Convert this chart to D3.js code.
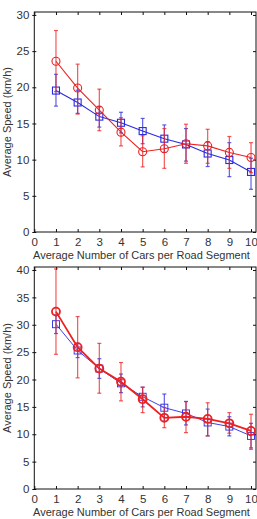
<!DOCTYPE html>
<html><head><meta charset="utf-8">
<script src="https://cdn.jsdelivr.net/npm/d3@7"></script>
<style>body{margin:0;background:#fff}svg{display:block}text{font-family:"Liberation Sans",Arial,sans-serif;fill:#333}</style>
</head><body><svg id="c" width="257" height="519"></svg>
<script>
const xs = [1,2,3,4,5,6,7,8,9,10];
const xTicks = [0,1,2,3,4,5,6,7,8,9,10];
// Top panel
const topRed = [23.6,19.9,16.85,13.8,11.1,11.5,12.2,11.9,11.0,10.3];
const topRedLo = [19.4,16.3,14.0,11.9,9.0,8.8,9.5,9.5,8.8,8.2];
const topRedHi = [27.85,23.2,19.75,15.8,13.3,14.3,14.9,14.2,13.2,12.35];
const topBlue = [19.55,17.9,15.95,15.1,13.95,12.9,12.1,10.85,9.95,8.3];
const topBlueLo = [17.4,16.4,14.5,13.7,12.2,11.0,9.8,9.05,7.65,5.9];
const topBlueHi = [21.8,19.6,17.3,16.55,15.7,14.8,14.3,12.5,12.35,10.2];
const topYTicks = [0,5,10,15,20,25,30];
// Bottom panel
const botRed = [32.4,25.9,22.0,19.6,16.4,13.0,13.2,12.8,12.0,10.6];
const botRedLo = [24.6,20.3,17.5,16.1,13.95,11.2,10.3,9.7,10.2,7.25];
const botRedHi = [40.2,31.5,26.6,23.1,18.6,14.9,15.95,15.75,13.95,13.65];
const botBlue = [30.1,25.3,22.0,19.3,16.85,14.85,13.8,12.15,11.4,9.7];
const botBlueLo = [28.4,24.0,20.2,17.6,15.0,12.4,11.7,9.7,9.7,7.5];
const botBlueHi = [31.8,26.6,23.8,21.0,18.6,17.35,16.0,14.6,13.2,12.0];
const botYTicks = [0,5,10,15,20,25,30,35,40];

const svg = d3.select("#c");
const RED = "#ee2020", BLUE = "#2a2ae0";

function panel(cfg){
  const g = svg.append("g");
  const x = d3.scaleLinear().domain([0,10.23]).range([34.3,256]);
  const y = d3.scaleLinear().domain([0,cfg.ymax]).range([cfg.y0,cfg.y1]);
  g.append("rect").attr("x",x(0)).attr("y",cfg.y1).attr("width",x(10.23)-x(0)).attr("height",cfg.y0-cfg.y1)
    .attr("fill","none").attr("stroke","#111").attr("stroke-width",1);
  const ax = g.append("g").attr("transform",`translate(0,${cfg.y0})`)
    .call(d3.axisBottom(x).tickValues(xTicks).tickSize(-3).tickPadding(6).tickFormat(d3.format("d")));
  const axT = g.append("g").attr("transform",`translate(0,${cfg.y1})`)
    .call(d3.axisTop(x).tickValues(xTicks).tickSize(-3).tickFormat(""));
  const ay = g.append("g").attr("transform",`translate(${x(0)},0)`)
    .call(d3.axisLeft(y).tickValues(cfg.yt).tickSize(3).tickPadding(2).tickFormat(d3.format("d")));
  const ayR = g.append("g").attr("transform",`translate(${x(10.23)},0)`)
    .call(d3.axisRight(y).tickValues(cfg.yt).tickSize(-3).tickFormat(""));
  [ax,axT,ay,ayR].forEach(a=>{a.select(".domain").remove();a.selectAll("line").attr("stroke","#111");
    a.selectAll("text").attr("font-size",11.5).style("fill","#333");});
  ay.selectAll(".tick line").attr("x2",2).attr("x1",-2);
  g.append("text").attr("x",33).attr("y",cfg.y0+27).attr("text-anchor","start").attr("font-size",11)
    .text("Average Number of Cars per Road Segment");
  g.append("text").attr("transform",`translate(11,${(cfg.y0+cfg.y1)/2}) rotate(-90)`).attr("text-anchor","middle")
    .attr("font-size",11).text("Average Speed (km/h)");

  function series(vals,lo,hi,color,shape,lw){
    const s = g.append("g");
    xs.forEach((d,i)=>{
      s.append("line").attr("x1",x(d)).attr("x2",x(d)).attr("y1",y(lo[i])).attr("y2",y(hi[i]))
        .attr("stroke",color).attr("stroke-opacity",0.75).attr("stroke-width",1.2);
      [lo[i],hi[i]].forEach(v=>s.append("line").attr("x1",x(d)-2).attr("x2",x(d)+2).attr("y1",y(v)).attr("y2",y(v))
        .attr("stroke",color).attr("stroke-opacity",0.75).attr("stroke-width",1.2));
    });
    s.append("path").datum(vals).attr("fill","none").attr("stroke",color).attr("stroke-width",lw)
      .attr("d",d3.line().x((v,i)=>x(xs[i])).y(v=>y(v)));
    vals.forEach((v,i)=>{
      if(shape==="circle") s.append("circle").attr("cx",x(xs[i])).attr("cy",y(v)).attr("r",4)
        .attr("fill","none").attr("stroke",color).attr("stroke-width",lw);
      else s.append("rect").attr("x",x(xs[i])-3.5).attr("y",y(v)-3.5).attr("width",7).attr("height",7)
        .attr("fill","none").attr("stroke",color).attr("stroke-width",lw);
    });
  }
  cfg.series.forEach(sr=>series(...sr));
}

panel({y0:232,y1:12,ymax:30.41,yt:topYTicks,series:[
  [topBlue,topBlueLo,topBlueHi,BLUE,"square",1.1],
  [topRed,topRedLo,topRedHi,RED,"circle",1.1]]});
panel({y0:489,y1:267,ymax:40.55,yt:botYTicks,series:[
  [botBlue,botBlueLo,botBlueHi,BLUE,"square",0.9],
  [botRed,botRedLo,botRedHi,RED,"circle",1.8]]});
</script></body></html>
